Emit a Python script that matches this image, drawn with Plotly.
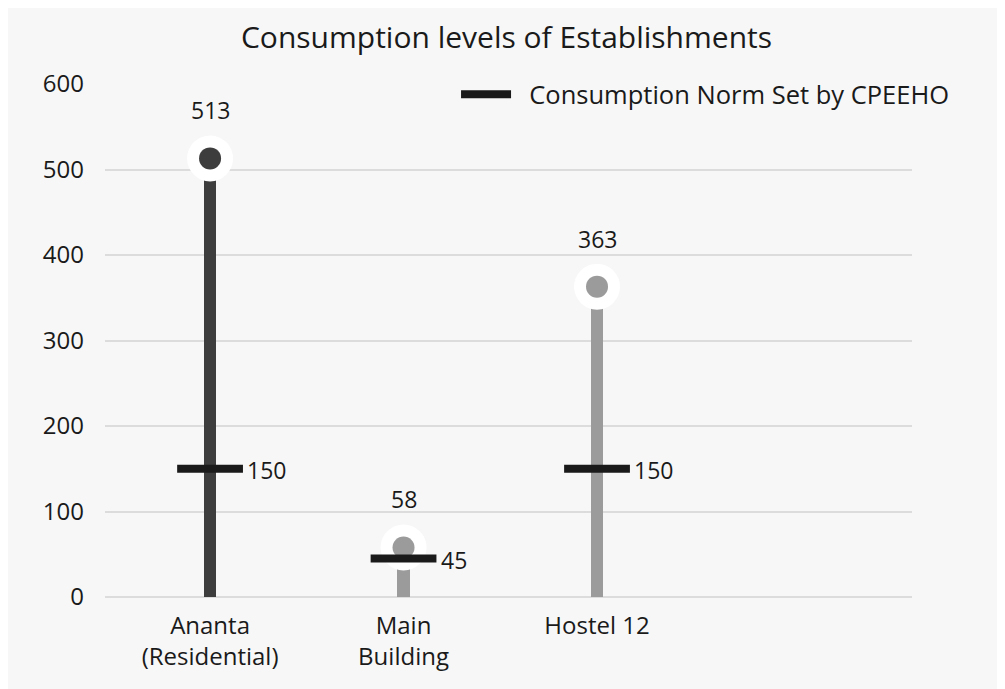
import plotly.graph_objects as go

categories = ["Ananta<br>(Residential)", "Main<br>Building", "Hostel 12"]
consumption = [513, 58, 363]
norms = [150, 45, 150]
bar_colors = ["#3d3d3d", "#9b9b9b", "#9b9b9b"]
yticks = [0, 100, 200, 300, 400, 500, 600]
legend_name = "\u00a0\u00a0Consumption Norm Set by CPEEHO"

xpos = list(range(len(categories)))
FONT = "Open Sans"
TXT = "#1a1a1a"

fig = go.Figure()

fig.add_trace(go.Bar(x=xpos, y=consumption, width=0.063,
                     marker=dict(color=bar_colors, line=dict(width=0)),
                     showlegend=False, hoverinfo="skip"))
fig.add_trace(go.Scatter(x=xpos, y=consumption, mode="markers",
                         marker=dict(size=46, color="white"),
                         showlegend=False, hoverinfo="skip"))
fig.add_trace(go.Scatter(x=xpos, y=consumption, mode="markers",
                         marker=dict(size=22, color=bar_colors),
                         showlegend=False))
fig.add_trace(go.Scatter(x=xpos, y=norms, mode="markers",
                         marker=dict(symbol="line-ew", size=47,
                                     line=dict(width=8, color=TXT)),
                         showlegend=False))
fig.add_trace(go.Scatter(x=[None], y=[None], mode="lines",
                         line=dict(color=TXT, width=8),
                         name=legend_name, showlegend=True))

for x, v in zip(xpos, consumption):
    fig.add_annotation(x=x, y=v, text=str(v), showarrow=False,
                       yshift=48, font=dict(size=23, color=TXT, family=FONT))
for x, n in zip(xpos, norms):
    fig.add_annotation(x=x, y=n, text=str(n), showarrow=False,
                       xanchor="left", xshift=35, yshift=-1,
                       font=dict(size=23, color=TXT, family=FONT))

fig.update_layout(
    width=997, height=681,
    paper_bgcolor="#f7f7f7", plot_bgcolor="#f7f7f7",
    margin=dict(l=97, r=93, t=76, b=92),
    font=dict(family=FONT, color=TXT, size=24),
    title=dict(text="Consumption levels of Establishments", x=0.5, xanchor="center",
               y=0.956, yanchor="middle", font=dict(size=30, family=FONT, color=TXT)),
    legend=dict(x=0.435, y=0.979, xanchor="left", yanchor="middle",
                bgcolor="rgba(0,0,0,0)", font=dict(size=25.5, family=FONT, color=TXT),
                itemwidth=50),
    bargap=0,
)
fig.update_xaxes(range=[-0.543, 3.628], tickvals=xpos, ticktext=categories,
                 showgrid=False, zeroline=False, showline=False, ticks="",
                 ticklabelstandoff=12,
                 tickfont=dict(size=24, family=FONT, color=TXT))
fig.update_yaxes(range=[0, 600], tickvals=yticks, showgrid=True,
                 gridcolor="#dcdcdc", gridwidth=2, zeroline=True, zerolinecolor="#dcdcdc",
                 zerolinewidth=2, ticks="", ticklabelstandoff=20,
                 tickfont=dict(size=24, family=FONT, color=TXT))

fig.write_html("out.html")
